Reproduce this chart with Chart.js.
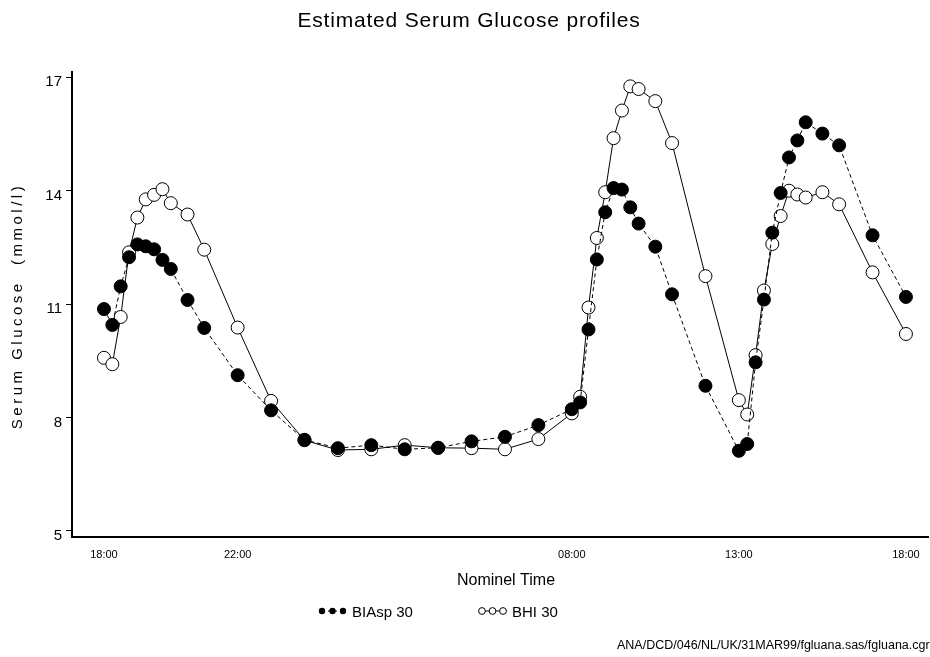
<!DOCTYPE html>
<html>
<head>
<meta charset="utf-8">
<script src="https://cdn.jsdelivr.net/npm/chart.js@4.4.0/dist/chart.umd.min.js"></script>
<style>
  html, body { margin: 0; padding: 0; background: #fff; }
  #wrap { width: 930px; height: 657px; }
</style>
</head>
<body>
<div id="wrap"><canvas id="chart" width="930" height="657"></canvas></div>
<script>
// hours after 18:00 (nominal sampling times)
const HOURS = [0, 0.25, 0.5, 0.75, 1, 1.25, 1.5, 1.75, 2, 2.5, 3, 4, 5, 6, 7, 8, 9, 10, 11, 12, 13,
  14, 14.25, 14.5, 14.75, 15, 15.25, 15.5, 15.75, 16, 16.5, 17, 18,
  19, 19.25, 19.5, 19.75, 20, 20.25, 20.5, 20.75, 21, 21.5, 22, 23, 24];

const BIASP_30 = [10.87, 10.45, 11.47, 12.24, 12.58, 12.53, 12.45, 12.17, 11.93, 11.11, 10.37, 9.12, 8.19,
  7.41, 7.19, 7.27, 7.16, 7.20, 7.37, 7.49, 7.80,
  8.22, 8.40, 10.33, 12.18, 13.43, 14.07, 14.03, 13.56, 13.13, 12.52, 11.26, 8.84,
  7.12, 7.30, 9.46, 11.12, 12.89, 13.94, 14.88, 15.33, 15.81, 15.51, 15.20, 12.82, 11.19];

const BHI_30 = [9.58, 9.41, 10.66, 12.37, 13.29, 13.77, 13.89, 14.04, 13.67, 13.37, 12.44, 10.38, 8.44,
  7.40, 7.14, 7.16, 7.27, 7.20, 7.19, 7.16, 7.43,
  8.11, 8.55, 10.91, 12.75, 13.96, 15.39, 16.12, 16.76, 16.69, 16.37, 15.26, 11.74,
  8.46, 8.08, 9.65, 11.36, 12.59, 13.33, 14.00, 13.90, 13.82, 13.96, 13.64, 11.84, 10.21];

const X_TICK_HOURS  = [0, 4, 14, 19, 24];
const X_TICK_LABELS = ['18:00', '22:00', '08:00', '13:00', '18:00'];
const Y_TICKS = [5, 8, 11, 14, 17];

const FONT = "'Liberation Sans', Arial, sans-serif";

function pts(ys) {
  return HOURS.map((h, i) => ({ x: h, y: ys[i] }));
}

// titles, legend and footnote drawn round the plot
const decor = {
  id: 'decor',
  afterDraw(chart) {
    const ctx = chart.ctx;
    ctx.save();
    ctx.fillStyle = '#000';
    ctx.strokeStyle = '#000';
    ctx.textBaseline = 'middle';

    ctx.textAlign = 'center';
    ctx.save();
    ctx.font = '21px ' + FONT;
    ctx.letterSpacing = '0.8px';
    ctx.fillText('Estimated Serum Glucose profiles', 469, 21);
    ctx.restore();

    ctx.font = '16px ' + FONT;
    ctx.fillText('Nominel Time', 506, 581);

    // y title, spaced like the original
    ctx.save();
    ctx.font = '15px ' + FONT;
    ctx.translate(18, 306);
    ctx.rotate(-Math.PI / 2);
    ctx.letterSpacing = '3.5px';
    ctx.fillText('Serum Glucose  (mmol/l)', 0, 0);
    ctx.restore();

    // legend
    ctx.textAlign = 'left';
    ctx.font = '15px ' + FONT;
    ctx.lineWidth = 1;
    ctx.setLineDash([3, 3]);
    ctx.beginPath(); ctx.moveTo(322, 611); ctx.lineTo(343, 611); ctx.stroke();
    ctx.setLineDash([]);
    [322, 332.5, 343].forEach(x => {
      ctx.beginPath(); ctx.arc(x, 611, 3.2, 0, Math.PI * 2); ctx.fill();
    });
    ctx.fillText('BIAsp 30', 352, 613);

    ctx.beginPath(); ctx.moveTo(482, 611); ctx.lineTo(503, 611); ctx.stroke();
    [482, 492.5, 503].forEach(x => {
      ctx.beginPath(); ctx.arc(x, 611, 3.4, 0, Math.PI * 2);
      ctx.fillStyle = '#fff'; ctx.fill();
      ctx.stroke();
    });
    ctx.fillStyle = '#000';
    ctx.fillText('BHI 30', 512, 613);

    ctx.font = '12.5px ' + FONT;
    ctx.fillText('ANA/DCD/046/NL/UK/31MAR99/fgluana.sas/fgluana.cgr', 617, 646);
    ctx.restore();
  }
};

new Chart(document.getElementById('chart'), {
  type: 'line',
  data: {
    datasets: [
      {
        label: 'BIAsp 30',
        data: pts(BIASP_30),
        borderColor: '#000',
        borderWidth: 1,
        borderDash: [4, 3],
        pointRadius: 6.5,
        pointBackgroundColor: '#000',
        pointBorderColor: '#000',
        pointBorderWidth: 1,
        tension: 0,
        order: 0
      },
      {
        label: 'BHI 30',
        data: pts(BHI_30),
        borderColor: '#000',
        borderWidth: 1,
        pointRadius: 6.5,
        pointBackgroundColor: '#fff',
        pointBorderColor: '#000',
        pointBorderWidth: 1,
        tension: 0,
        order: 1
      }
    ]
  },
  options: {
    responsive: false,
    animation: false,
    devicePixelRatio: 1,
    layout: { autoPadding: false, padding: { left: 0, top: 72, right: 2, bottom: 90 } },
    plugins: { legend: { display: false }, title: { display: false }, tooltip: { enabled: false } },
    scales: {
      x: {
        type: 'linear',
        min: -0.957,
        max: 24.66,
        afterBuildTicks: s => { s.ticks = X_TICK_HOURS.map(v => ({ value: v })); },
        afterFit: s => { s.height = 30; s.paddingRight = 0; s.paddingLeft = 0; },
        grid: { display: false },
        border: { display: true, color: '#000', width: 2 },
        ticks: {
          color: '#000',
          padding: 3,
          maxRotation: 0,
          autoSkip: false,
          font: { family: FONT, size: 11 },
          callback: v => X_TICK_LABELS[X_TICK_HOURS.indexOf(v)]
        }
      },
      y: {
        min: 4.84,
        max: 17.14,
        afterBuildTicks: s => { s.ticks = Y_TICKS.map(v => ({ value: v })); },
        afterFit: s => { s.width = 72; },
        grid: { display: true, drawOnChartArea: false, drawTicks: true, tickLength: 6, color: '#000', lineWidth: 1 },
        border: { display: true, color: '#000', width: 2 },
        ticks: {
          color: '#000',
          padding: 4,
          labelOffset: 5,
          autoSkip: false,
          font: { family: FONT, size: 15 }
        }
      }
    }
  },
  plugins: [decor]
});
</script>
</body>
</html>
